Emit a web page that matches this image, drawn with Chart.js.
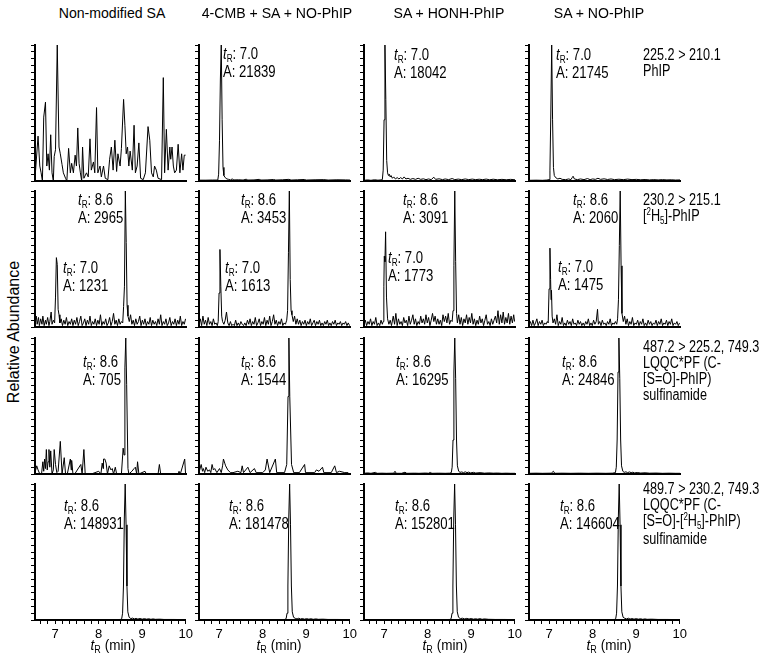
<!DOCTYPE html>
<html>
<head>
<meta charset="utf-8">
<script src="https://cdn.jsdelivr.net/npm/chart.js@4.4.1/dist/chart.umd.min.js"></script>
<style>
  body { margin: 0; background: #fff; }
  #fig { position: relative; width: 765px; height: 661px; overflow: hidden; font-family: "Liberation Sans", Arial, sans-serif; color: #000; }
  #fig canvas { position: absolute; }
  .txt { position: absolute; white-space: nowrap; line-height: 16px; }
  .title { font-size: 15px; transform: translateX(-50%) scaleX(0.94); }
  .ann { font-size: 16px; transform: scaleX(0.82); transform-origin: left top; }
  .trans { font-size: 16px; transform: scaleX(0.79); transform-origin: left top; }
  .xt { font-size: 15px; transform: translateX(-50%) scaleX(0.9); }
  .yl { font-size: 16px; transform: translate(-50%, -50%) rotate(-90deg); }
  .sb { font-size: 10px; position: relative; top: 3px; }
  .sp { font-size: 10px; position: relative; top: -6px; }
</style>
</head>
<body>
<div id="fig"></div>
<script>
// column headings and MRM transitions (right-hand side)
const colTitles = ['Non-modified SA', '4-CMB + SA + NO-PhIP', 'SA + HONH-PhIP', 'SA + NO-PhIP'];
const transitions = [
  ['225.2 > 210.1', 'PhIP'],
  ['230.2 > 215.1', '[<span class="sp">2</span>H<span class="sb">5</span>]-PhIP'],
  ['487.2 > 225.2, 749.3', 'LQQC*PF (C-', '[S=O]-PhIP)', 'sulfinamide'],
  ['489.7 > 230.2, 749.3', 'LQQC*PF (C-', '[S=O]-[<span class="sp">2</span>H<span class="sb">5</span>]-PhIP)', 'sulfinamide']
];
const xLabels = [7, 8, 9, 10];

// peak retention times / areas per panel [row][col]
const peakTR = [
  [[], ['7.0'], ['7.0'], ['7.0']],
  [['8.6', '7.0'], ['8.6', '7.0'], ['8.6', '7.0'], ['8.6', '7.0']],
  [['8.6'], ['8.6'], ['8.6'], ['8.6']],
  [['8.6'], ['8.6'], ['8.6'], ['8.6']]
];
const peakArea = [
  [[], [21839], [18042], [21745]],
  [[2965, 1231], [3453, 1613], [3091, 1773], [2060, 1475]],
  [[705], [1544], [16295], [24846]],
  [[148931], [181478], [152801], [146604]]
];

// chromatograms: [time (min), relative abundance (%)]
// row 1: PhIP 225.2 > 210.1
const phipNonMod = [[6.54,2],[6.61,33],[6.65,11],[6.68,6],[6.71,0],[6.74,47],[6.78,58],[6.81,11],[6.84,20],[6.87,8],[6.90,34],[6.93,6],[6.96,0],[6.98,18],[7.01,23],[7.05,100],[7.09,25],[7.12,20],[7.16,12],[7.19,6],[7.24,2],[7.27,0],[7.31,24],[7.35,6],[7.38,13],[7.42,6],[7.46,19],[7.49,11],[7.52,39],[7.55,13],[7.58,6],[7.61,0],[7.63,25],[7.66,2],[7.72,6],[7.76,3],[7.80,31],[7.83,8],[7.88,14],[7.91,6],[7.95,54],[7.98,6],[8.03,11],[8.06,3],[8.11,11],[8.15,2],[8.21,1],[8.25,16],[8.29,25],[8.33,8],[8.37,30],[8.41,7],[8.44,20],[8.49,11],[8.52,24],[8.57,60],[8.60,41],[8.63,20],[8.66,25],[8.69,11],[8.72,22],[8.77,8],[8.81,41],[8.84,6],[8.88,11],[8.92,28],[8.96,2],[9.02,1],[9.07,6],[9.13,40],[9.17,30],[9.21,6],[9.25,3],[9.28,11],[9.32,8],[9.36,2],[9.44,1],[9.48,76],[9.51,6],[9.55,38],[9.59,8],[9.63,25],[9.65,16],[9.68,25],[9.71,11],[9.74,6],[9.78,8],[9.82,27],[9.86,6],[9.90,20],[9.93,8],[9.96,19],[9.99,19]];
const phipCmb = [[6.54,0.6],[6.70,0.6],[6.85,0.7],[6.97,0.7],[6.99,5],[7.01,30],[7.03,75],[7.05,100],[7.07,45],[7.09,10],[7.11,4],[7.14,2.5],[7.18,1.5],[7.22,1.2],[7.26,0.8],[7.30,1.5],[7.34,0.8],[7.45,0.9],[7.55,0.7],[7.62,1.3],[7.66,0.7],[7.80,0.8],[7.92,1.2],[7.96,0.7],[8.10,0.8],[8.25,1.1],[8.30,0.7],[8.45,0.9],[8.60,1.2],[8.65,0.7],[8.80,0.9],[8.95,1.1],[9.00,0.7],[9.20,0.9],[9.40,1.0],[9.50,0.7],[9.70,0.9],[9.90,0.8],[10.0,0.7]];
const phipHonh = [[6.54,0.5],[6.62,0.8],[6.70,0.5],[6.78,0.9],[6.86,0.6],[6.93,0.8],[6.96,1],[6.98,8],[7.00,45],[7.02,100],[7.04,60],[7.06,15],[7.08,6],[7.10,4],[7.12,5],[7.14,3],[7.16,4],[7.19,2],[7.22,3],[7.26,1.5],[7.30,2.5],[7.34,1.5],[7.38,2.5],[7.42,1.5],[7.46,3],[7.50,1.5],[7.55,2],[7.60,1.2],[7.66,1.8],[7.72,1.2],[7.78,2],[7.84,1.2],[7.90,1.6],[7.96,1],[8.02,1.5],[8.08,1],[8.14,2.8],[8.18,1.2],[8.26,1.6],[8.34,1],[8.40,1.5],[8.48,1],[8.56,1.8],[8.62,1],[8.70,1.4],[8.78,1],[8.86,1.5],[8.94,1],[9.02,1.4],[9.10,1],[9.18,1.3],[9.26,1],[9.34,1.4],[9.42,0.9],[9.50,1.3],[9.60,0.9],[9.70,1.2],[9.80,0.9],[9.90,1.2],[10.0,0.9]];
const phipNo = [[6.54,0.5],[6.70,0.6],[6.85,0.5],[6.95,0.7],[7.00,1],[7.02,8],[7.04,50],[7.06,100],[7.08,45],[7.10,10],[7.12,4],[7.15,2.5],[7.20,1.5],[7.25,2],[7.30,1.2],[7.38,1],[7.45,1.5],[7.50,1],[7.53,2.5],[7.55,3.5],[7.58,1.5],[7.65,1],[7.72,1.5],[7.80,1],[7.88,1.8],[7.94,1],[8.00,1.5],[8.06,1.2],[8.12,2],[8.18,1.2],[8.26,1.6],[8.34,1.1],[8.42,1.5],[8.50,1],[8.60,1.3],[8.70,1],[8.80,1.4],[8.90,1],[9.00,1.2],[9.10,0.9],[9.20,1.1],[9.30,0.8],[9.40,1],[9.50,0.8],[9.60,1],[9.70,0.8],[9.80,0.9],[9.90,0.7],[10.0,0.8]];

// row 2: [2H5]-PhIP 230.2 > 215.1
const d5NonMod = [[6.54,3],[6.57,8],[6.59,2],[6.62,7],[6.64,1],[6.67,6],[6.70,2],[6.72,8],[6.75,1],[6.78,5],[6.80,2],[6.83,7],[6.86,1],[6.88,4],[6.91,11],[6.93,2],[6.96,5],[6.99,3],[7.01,22],[7.03,51],[7.05,46],[7.07,13],[7.09,9],[7.11,3],[7.14,6],[7.17,1],[7.20,5],[7.23,2],[7.26,7],[7.29,1],[7.32,4],[7.35,2],[7.38,6],[7.41,1],[7.44,5],[7.47,2],[7.50,7],[7.53,1],[7.56,4],[7.59,8],[7.62,1],[7.65,3],[7.68,6],[7.71,1],[7.74,5],[7.77,2],[7.80,8],[7.83,1],[7.86,4],[7.89,2],[7.92,6],[7.95,1],[7.98,5],[8.01,2],[8.04,9],[8.07,1],[8.10,4],[8.13,2],[8.16,6],[8.19,1],[8.22,3],[8.25,7],[8.28,1],[8.31,4],[8.34,10],[8.37,2],[8.40,5],[8.43,1],[8.46,6],[8.49,2],[8.52,4],[8.55,3],[8.57,15],[8.59,30],[8.61,100],[8.63,62],[8.65,16],[8.67,8],[8.70,4],[8.73,9],[8.76,2],[8.79,5],[8.82,1],[8.85,6],[8.88,2],[8.91,4],[8.94,8],[8.97,1],[9.00,5],[9.03,2],[9.06,6],[9.09,1],[9.12,4],[9.15,2],[9.18,7],[9.21,1],[9.24,5],[9.27,2],[9.30,4],[9.33,1],[9.36,6],[9.39,2],[9.42,9],[9.45,1],[9.48,4],[9.51,2],[9.54,6],[9.57,1],[9.60,3],[9.63,7],[9.66,1],[9.69,4],[9.72,2],[9.75,6],[9.78,1],[9.81,5],[9.84,2],[9.87,8],[9.90,1],[9.93,4],[9.96,2],[9.99,6]];
const d5Cmb = [[6.54,2],[6.57,6],[6.60,1],[6.63,8],[6.66,2],[6.69,5],[6.72,1],[6.75,7],[6.78,2],[6.81,4],[6.84,1],[6.87,6],[6.90,2],[6.93,3],[6.96,1],[6.98,4],[7.00,25],[7.02,57],[7.04,30],[7.06,8],[7.08,4],[7.11,2],[7.14,5],[7.17,11],[7.20,3],[7.23,1],[7.26,4],[7.29,1],[7.32,2],[7.35,1],[7.38,5],[7.41,1],[7.44,3],[7.47,1],[7.50,4],[7.53,2],[7.56,1],[7.59,3],[7.62,1],[7.65,5],[7.68,2],[7.71,6],[7.74,1],[7.77,4],[7.80,2],[7.83,7],[7.86,1],[7.89,3],[7.92,6],[7.95,1],[7.98,4],[8.01,2],[8.04,7],[8.07,1],[8.10,5],[8.13,2],[8.16,8],[8.19,1],[8.22,4],[8.25,9],[8.28,2],[8.31,5],[8.34,1],[8.37,4],[8.40,2],[8.43,6],[8.46,1],[8.49,3],[8.52,2],[8.55,5],[8.57,12],[8.59,55],[8.61,100],[8.63,35],[8.65,12],[8.67,9],[8.70,4],[8.73,8],[8.76,2],[8.79,6],[8.82,2],[8.85,5],[8.88,1],[8.91,4],[8.94,2],[8.97,5],[9.00,1],[9.03,4],[9.06,2],[9.09,6],[9.12,1],[9.15,3],[9.18,5],[9.21,1],[9.24,4],[9.27,2],[9.30,5],[9.33,1],[9.36,3],[9.39,1],[9.42,4],[9.45,2],[9.48,5],[9.51,1],[9.54,3],[9.57,1],[9.60,4],[9.63,2],[9.66,5],[9.69,1],[9.72,3],[9.75,2],[9.78,4],[9.81,1],[9.84,3],[9.87,2],[9.90,4],[9.93,1],[9.96,3],[9.99,1]];
const d5Honh = [[6.54,2],[6.57,5],[6.60,1],[6.63,4],[6.66,2],[6.69,6],[6.72,1],[6.75,4],[6.78,2],[6.81,7],[6.84,1],[6.87,3],[6.90,1],[6.93,5],[6.96,2],[6.98,4],[6.995,30],[7.005,52],[7.02,48],[7.035,70],[7.055,22],[7.08,6],[7.11,2],[7.14,5],[7.17,1],[7.21,8],[7.24,2],[7.27,10],[7.30,1],[7.33,6],[7.36,2],[7.39,4],[7.42,1],[7.45,7],[7.48,3],[7.51,5],[7.54,1],[7.57,8],[7.60,2],[7.63,5],[7.66,9],[7.69,2],[7.72,6],[7.75,1],[7.78,4],[7.81,2],[7.84,8],[7.87,3],[7.90,6],[7.93,2],[7.96,9],[7.99,3],[8.02,7],[8.05,1],[8.08,5],[8.11,10],[8.14,4],[8.17,8],[8.20,2],[8.23,6],[8.26,2],[8.29,5],[8.32,1],[8.35,9],[8.38,4],[8.41,8],[8.44,3],[8.47,10],[8.50,2],[8.53,5],[8.56,4],[8.58,12],[8.60,45],[8.62,100],[8.64,48],[8.66,10],[8.68,3],[8.71,9],[8.74,2],[8.77,7],[8.80,1],[8.83,6],[8.86,3],[8.89,9],[8.92,2],[8.95,7],[8.98,3],[9.01,10],[9.04,2],[9.07,6],[9.10,1],[9.13,5],[9.16,2],[9.19,8],[9.22,3],[9.25,6],[9.28,1],[9.31,5],[9.34,9],[9.37,2],[9.40,4],[9.43,1],[9.46,6],[9.49,2],[9.52,5],[9.55,8],[9.58,3],[9.61,12],[9.64,2],[9.67,9],[9.70,3],[9.73,11],[9.76,2],[9.79,7],[9.82,3],[9.85,10],[9.88,2],[9.91,8],[9.94,3],[9.97,9],[9.99,4]];
const d5No = [[6.54,2],[6.57,4],[6.60,1],[6.63,5],[6.66,1],[6.69,3],[6.72,6],[6.75,1],[6.78,4],[6.81,2],[6.84,5],[6.87,1],[6.90,3],[6.93,2],[6.96,4],[6.98,3],[7.00,28],[7.02,58],[7.035,35],[7.045,20],[7.055,27],[7.07,8],[7.09,3],[7.12,6],[7.15,2],[7.18,9],[7.21,1],[7.24,4],[7.27,2],[7.30,7],[7.33,1],[7.36,3],[7.39,1],[7.42,5],[7.45,2],[7.48,4],[7.51,1],[7.54,6],[7.57,2],[7.60,3],[7.63,1],[7.66,5],[7.69,2],[7.72,4],[7.75,1],[7.78,3],[7.81,1],[7.84,4],[7.87,2],[7.90,6],[7.93,1],[7.96,3],[7.99,1],[8.02,5],[8.05,2],[8.08,4],[8.11,13],[8.13,2],[8.16,4],[8.19,1],[8.22,5],[8.25,2],[8.28,3],[8.31,1],[8.34,4],[8.37,2],[8.40,6],[8.43,1],[8.46,3],[8.49,2],[8.52,4],[8.55,2],[8.57,6],[8.59,20],[8.61,60],[8.63,100],[8.65,45],[8.67,10],[8.70,4],[8.73,8],[8.76,2],[8.79,6],[8.82,1],[8.85,4],[8.88,2],[8.91,7],[8.94,1],[8.97,3],[9.00,2],[9.03,5],[9.06,1],[9.09,4],[9.12,2],[9.15,6],[9.18,1],[9.21,3],[9.24,1],[9.27,5],[9.30,2],[9.33,4],[9.36,1],[9.39,3],[9.42,2],[9.45,5],[9.48,1],[9.51,4],[9.54,2],[9.57,6],[9.60,1],[9.63,3],[9.66,2],[9.69,5],[9.72,1],[9.75,4],[9.78,2],[9.81,6],[9.84,1],[9.87,3],[9.90,2],[9.93,4],[9.96,1],[9.99,3]];

// row 3: LQQC*PF (C-[S=O]-PhIP) sulfinamide
const sulfNonMod = [[6.54,1],[6.58,6],[6.61,3],[6.65,0],[6.69,0],[6.72,9],[6.74,2],[6.76,11],[6.78,4],[6.80,18],[6.82,3],[6.84,9],[6.86,18],[6.88,5],[6.90,17],[6.93,0],[6.96,3],[6.98,18],[7.01,7],[7.04,1],[7.07,2],[7.12,24],[7.16,0],[7.21,12],[7.24,0],[7.28,0],[7.35,11],[7.37,3],[7.38,10],[7.41,0],[7.45,0],[7.59,7],[7.62,0],[7.66,18],[7.69,0],[7.83,0],[8.00,2],[8.05,0],[8.08,8],[8.10,4],[8.11,11],[8.14,11],[8.17,8],[8.20,0],[8.24,6],[8.28,3],[8.31,4],[8.34,0],[8.38,5],[8.41,0],[8.52,0],[8.56,19],[8.58,14],[8.60,78],[8.62,100],[8.64,66],[8.67,4],[8.69,0],[8.76,2],[8.81,4],[8.84,5],[8.87,0],[8.89,9],[8.92,0],[9.06,2],[9.09,0],[9.36,0],[9.39,7],[9.42,0],[9.82,0],[9.84,2],[9.87,0],[9.97,11],[9.99,0]];
const sulfCmb = [[6.54,1],[6.59,7],[6.62,2],[6.64,4],[6.67,1],[6.70,5],[6.74,2],[6.78,3],[6.81,1],[6.84,7],[6.87,3],[6.90,4],[6.95,1],[7.01,4],[7.05,1],[7.08,6],[7.10,11],[7.13,8],[7.15,6],[7.20,3],[7.26,1],[7.32,1],[7.43,2],[7.50,1],[7.53,6],[7.56,1],[7.66,5],[7.71,1],[7.81,4],[7.85,1],[8.00,1],[8.06,3],[8.10,11],[8.16,1],[8.29,11],[8.32,1],[8.50,1],[8.55,7],[8.58,57],[8.60,100],[8.62,57],[8.66,7],[8.71,1],[8.84,1],[8.96,7],[8.98,1],[9.19,1],[9.23,3],[9.29,2],[9.37,5],[9.40,1],[9.57,1],[9.65,6],[9.69,1],[9.76,2],[9.88,1],[9.96,1]];
const sulfHonh = [[6.54,0.5],[6.62,0.8],[6.70,0.5],[6.80,1.2],[6.84,0.5],[6.95,0.6],[7.05,0.5],[7.22,0.6],[7.25,2],[7.28,0.5],[7.40,0.5],[7.48,1.3],[7.52,0.5],[7.70,0.6],[7.80,0.5],[7.95,0.7],[8.03,0.5],[8.06,1.5],[8.09,0.5],[8.25,0.6],[8.40,0.5],[8.50,0.6],[8.54,1],[8.56,5],[8.58,25],[8.60,75],[8.62,100],[8.64,70],[8.66,25],[8.68,6],[8.71,2],[8.74,1.2],[8.78,1.5],[8.82,1],[8.86,1.6],[8.90,1],[8.94,1.4],[8.98,0.8],[9.05,1.2],[9.10,0.7],[9.20,1],[9.30,0.6],[9.40,0.8],[9.50,0.6],[9.60,0.7],[9.70,0.5],[9.80,0.6],[9.90,0.5],[10.0,0.5]];
const sulfNo = [[6.54,0.5],[6.70,0.6],[6.85,0.5],[7.05,0.6],[7.10,2],[7.13,0.5],[7.30,0.6],[7.50,0.5],[7.70,0.6],[7.90,0.5],[8.10,0.6],[8.30,0.5],[8.45,0.6],[8.52,1],[8.54,5],[8.56,25],[8.58,75],[8.60,100],[8.62,70],[8.64,25],[8.66,6],[8.69,2],[8.72,1.2],[8.76,1.6],[8.80,1],[8.84,1.5],[8.88,1],[8.92,1.3],[8.96,0.8],[9.02,1.1],[9.10,0.7],[9.20,0.9],[9.30,0.6],[9.45,0.7],[9.60,0.5],[9.75,0.6],[9.90,0.5],[10.0,0.5]];

// row 4: LQQC*PF (C-[S=O]-[2H5]-PhIP) sulfinamide
const sulfD5NonMod = [[6.54,0.3],[7.50,0.3],[8.40,0.3],[8.50,0.4],[8.53,1],[8.55,5],[8.57,25],[8.59,75],[8.61,100],[8.63,70],[8.65,25],[8.67,6],[8.70,2],[8.74,1],[8.78,1.4],[8.82,0.8],[8.86,1.2],[8.90,0.7],[8.95,1.1],[9.00,0.6],[9.05,1],[9.10,0.6],[9.15,0.9],[9.20,0.5],[9.25,0.8],[9.30,0.5],[9.40,0.6],[9.50,0.4],[9.70,0.4],[10.0,0.3]];
const sulfD5Cmb = [[6.54,0.3],[7.50,0.3],[8.40,0.3],[8.51,0.4],[8.54,1],[8.56,5],[8.58,25],[8.60,75],[8.62,100],[8.64,70],[8.66,25],[8.68,6],[8.71,2],[8.75,1.2],[8.79,0.8],[8.83,1.3],[8.87,0.7],[8.91,1.1],[8.96,0.6],[9.01,1],[9.06,0.6],[9.11,0.9],[9.16,0.5],[9.22,0.8],[9.28,0.5],[9.38,0.6],[9.50,0.4],[9.70,0.4],[10.0,0.3]];
const sulfD5Honh = [[6.54,0.3],[7.50,0.3],[8.40,0.3],[8.51,0.4],[8.54,1],[8.56,5],[8.58,25],[8.60,75],[8.62,100],[8.64,70],[8.66,25],[8.68,6],[8.71,2],[8.75,1],[8.80,1.3],[8.85,0.8],[8.90,1.2],[8.95,0.7],[9.00,1.1],[9.05,0.6],[9.10,0.9],[9.15,0.6],[9.20,1],[9.25,0.5],[9.30,0.8],[9.40,0.5],[9.55,0.4],[9.75,0.4],[10.0,0.3]];
const sulfD5No = [[6.54,0.3],[7.50,0.3],[8.40,0.3],[8.50,0.4],[8.53,1],[8.55,5],[8.57,25],[8.59,75],[8.61,100],[8.63,70],[8.65,25],[8.67,6],[8.70,2],[8.74,1.2],[8.78,0.8],[8.82,1.3],[8.86,0.7],[8.90,1.1],[8.95,0.6],[9.00,1],[9.05,0.6],[9.10,0.9],[9.15,0.5],[9.20,0.8],[9.25,0.5],[9.35,0.6],[9.50,0.4],[9.70,0.4],[10.0,0.3]];

const traces = [
  [phipNonMod, phipCmb, phipHonh, phipNo],
  [d5NonMod, d5Cmb, d5Honh, d5No],
  [sulfNonMod, sulfCmb, sulfHonh, sulfNo],
  [sulfD5NonMod, sulfD5Cmb, sulfD5Honh, sulfD5No]
];

// ---- layout (pixels) ----
const FONT = '"Liberation Sans", Arial, sans-serif';
const colLeft = [35, 199, 364, 529];
const rowTop = [45, 191, 338, 484];
const PLOT_W = 151, PLOT_H = 136;
const PAD_L = 8, PAD_R = 10, PAD_T = 4, PAD_B = 3, AXIS_H = 30;
const X_MIN = 6.54, X_MAX = 10;

// where each peak label sits: [left, first baseline]
const peakPos = [
  [[], [[223, 59]], [[394, 60]], [[556, 60]]],
  [[[78, 205], [63, 273]], [[241, 205], [225, 273]], [[403, 205], [388, 263]], [[573, 205], [558, 272]]],
  [[[83, 367]], [[241, 367]], [[396, 367]], [[562, 367]]],
  [[[64, 511]], [[229, 511]], [[395, 511]], [[560, 511]]]
];
const transTop = [60, 205, 352, 494];
const titleX = [112, 277, 449, 599];
const xTitleX = [113, 279, 445, 609];

const fig = document.getElementById('fig');

// minor ticks every 10 s, labels only on whole minutes
const xTickVals = [];
for (let k = 40; k <= 60; k++) xTickVals.push(k / 6);

function addText(cls, html, x, y) {
  const d = document.createElement('div');
  d.className = 'txt ' + cls;
  d.innerHTML = html;
  d.style.left = x + 'px';
  d.style.top = y + 'px';
  fig.appendChild(d);
  return d;
}

function makePanel(r, c) {
  const last = r === traces.length - 1;
  const W = PAD_L + PLOT_W + PAD_R;
  const H = PAD_T + PLOT_H + (last ? AXIS_H : PAD_B);
  const cv = document.createElement('canvas');
  cv.width = W; cv.height = H;
  cv.style.left = (colLeft[c] - PAD_L) + 'px';
  cv.style.top = (rowTop[r] - PAD_T) + 'px';
  cv.style.width = W + 'px';
  cv.style.height = H + 'px';
  fig.appendChild(cv);

  new Chart(cv, {
    type: 'line',
    data: {
      datasets: [{
        data: traces[r][c].map(p => ({ x: p[0], y: p[1] })),
        borderColor: '#000',
        borderWidth: 1,
        pointRadius: 0,
        tension: 0,
        fill: false
      }]
    },
    options: {
      responsive: false,
      animation: false,
      events: [],
      layout: { padding: { left: 0, top: PAD_T, right: PAD_R, bottom: 0 } },
      plugins: { legend: { display: false }, tooltip: { enabled: false } },
      scales: {
        x: {
          type: 'linear', min: X_MIN, max: X_MAX,
          afterBuildTicks: s => { s.ticks = xTickVals.map(v => ({ value: v })); },
          afterFit: s => { s.height = last ? AXIS_H : PAD_B; },
          grid: { display: last, drawOnChartArea: false, drawTicks: true, tickLength: 4, color: '#000', lineWidth: 1 },
          border: { display: true, color: '#000', width: 2 },
          ticks: {
            display: last, autoSkip: false, maxRotation: 0, padding: 3, color: '#000',
            font: { family: FONT, size: 13 },
            callback: v => {
              const n = Math.round(v);
              return Math.abs(v - n) < 1e-6 && xLabels.includes(n) ? String(n) : '';
            }
          }
        },
        y: {
          min: 0, max: 100,
          afterFit: s => { s.width = PAD_L; },
          ticks: { display: false, stepSize: 5, maxTicksLimit: 30 },
          grid: { drawOnChartArea: false, drawTicks: true, tickLength: 4, color: '#000', lineWidth: 1 },
          border: { display: true, color: '#000', width: 2 }
        }
      }
    }
  });
}

for (let r = 0; r < traces.length; r++) {
  for (let c = 0; c < 4; c++) {
    makePanel(r, c);
    peakTR[r][c].forEach((tr, i) => {
      const [x, y] = peakPos[r][c][i];
      addText('ann', `<i>t</i><span class="sb">R</span>: ${tr}<br>A: ${peakArea[r][c][i]}`, x, y - 13);
    });
  }
  addText('trans', transitions[r].join('<br>'), 643, transTop[r] - 13);
}

colTitles.forEach((t, c) => addText('title', t, titleX[c], 5));
xTitleX.forEach(x => addText('xt', '<i>t</i><span class="sb">R</span> (min)', x, 637));
addText('yl', 'Relative Abundance', 14, 332);
</script>
</body>
</html>
